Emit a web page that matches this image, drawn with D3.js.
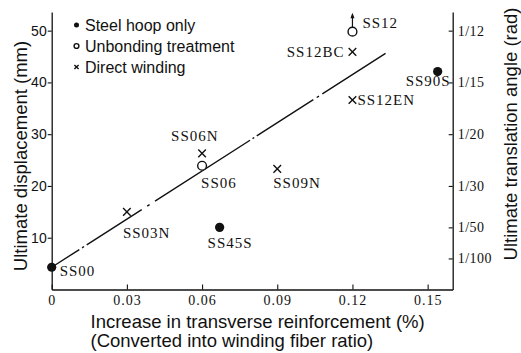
<!DOCTYPE html>
<html>
<head>
<meta charset="utf-8">
<script src="https://cdn.jsdelivr.net/npm/d3@7"></script>
<style>
  html, body { margin: 0; padding: 0; background: #fff; }
  svg { display: block; }
</style>
</head>
<body>
<svg id="chart" width="521" height="353"></svg>
<script>
// ---------------- data ----------------
const specimenNames = ["SS00", "SS03N", "SS06N", "SS06", "SS45S", "SS09N", "SS12BC", "SS12EN", "SS12", "SS90S"];
const specimenTypes = ["hoop", "winding", "winding", "unbonding", "hoop", "winding", "winding", "winding", "unbonding", "hoop"];
const fiberRatio    = [0, 0.03, 0.06, 0.06, 0.067, 0.09, 0.12, 0.12, 0.12, 0.154];
const ultimateDisp  = [4.3, 15.0, 26.3, 23.9, 12.0, 23.3, 45.9, 36.6, 49.8, 42.1];

const trendX = [0, 0.1332];
const trendY = [4.3, 45.6];

const xTicks = [0, 0.03, 0.06, 0.09, 0.12, 0.15];
const xTickLabels = ["0", "0.03", "0.06", "0.09", "0.12", "0.15"];
const yTicks = [10, 20, 30, 40, 50];
const angleTicks = [1/12, 1/15, 1/20, 1/30, 1/50, 1/100];
const angleTickLabels = ["1/12", "1/15", "1/20", "1/30", "1/50", "1/100"];
const specimenHeight = 600; // mm, displacement = angle * height

const legendTypes = ["hoop", "unbonding", "winding"];
const legendLabels = ["Steel hoop only", "Unbonding treatment", "Direct winding"];

// ---------------- layout / style ----------------
const svg = d3.select("#chart");
const x = d3.scaleLinear().domain([0, 0.16]).range([51.7, 452.7]);
const y = d3.scaleLinear().domain([0, 53.6]).range([289.5, 12]);
const yAngle = d3.scaleLinear().domain([0, 53.6 / specimenHeight]).range([289.5, 12]);

const labelPlace = {
  SS00:   {dx: 8,   dy: 4,   anchor: "start"},
  SS03N:  {dx: -4,  dy: 21,  anchor: "start"},
  SS06N:  {dx: -31, dy: -17, anchor: "start"},
  SS06:   {dx: -1,  dy: 17,  anchor: "start"},
  SS45S:  {dx: -12, dy: 16,  anchor: "start"},
  SS09N:  {dx: -4,  dy: 14,  anchor: "start"},
  SS12BC: {dx: -8,  dy: 0,   anchor: "end"},
  SS12EN: {dx: 5,   dy: 0,   anchor: "start"},
  SS12:   {dx: 10,  dy: -9,  anchor: "start"},
  SS90S:  {dx: 13,  dy: 9.5, anchor: "end"}
};

const ink = "#111";

function drawMarker(g, type, cx, cy, s) {
  if (type === "hoop") {
    g.append("circle").attr("cx", cx).attr("cy", cy).attr("r", 4.6 * s).attr("fill", ink);
  } else if (type === "unbonding") {
    g.append("circle").attr("cx", cx).attr("cy", cy).attr("r", 4.4 * s)
      .attr("fill", "#fff").attr("stroke", ink).attr("stroke-width", 1.4);
  } else {
    const h = 3.8 * s;
    g.append("path")
      .attr("d", `M${cx - h},${cy - h}L${cx + h},${cy + h}M${cx - h},${cy + h}L${cx + h},${cy - h}`)
      .attr("stroke", ink).attr("stroke-width", 1.4).attr("fill", "none");
  }
}

// ---------------- axes ----------------
const axisLeft = d3.axisLeft(y).tickValues(yTicks).tickSizeInner(4).tickSizeOuter(0).tickPadding(1)
  .tickFormat(d3.format("d"));
const gL = svg.append("g").attr("transform", `translate(${x(0)},0)`).call(axisLeft);
gL.selectAll("text").attr("font-family", "'Liberation Sans Narrow', 'Liberation Sans', sans-serif")
  .attr("font-size", 14).attr("fill", ink);

const axisBottom = d3.axisBottom(x).tickValues(xTicks).tickSizeInner(-5).tickSizeOuter(0).tickPadding(6)
  .tickFormat((d, i) => xTickLabels[i]);
const gB = svg.append("g").attr("transform", `translate(0,${y(0)})`).call(axisBottom);
gB.selectAll("text").attr("font-family", "'Liberation Serif', serif").attr("font-size", 14)
  .attr("letter-spacing", 1).attr("fill", ink);

const axisRight = d3.axisRight(yAngle).tickValues(angleTicks).tickSizeInner(-4).tickSizeOuter(0).tickPadding(5)
  .tickFormat((d, i) => angleTickLabels[i]);
const gR = svg.append("g").attr("transform", `translate(${x(0.16)},0)`).call(axisRight);
gR.selectAll("text").attr("font-family", "'Liberation Serif', serif").attr("font-size", 14)
  .attr("letter-spacing", 0.5).attr("fill", ink);

[gL, gB, gR].forEach(g => {
  g.selectAll("path.domain").attr("stroke", ink).attr("stroke-width", 1.3);
  g.selectAll(".tick line").attr("stroke", ink).attr("stroke-width", 1.1);
});

// ---------------- axis titles ----------------
svg.append("text")
  .attr("transform", "translate(20,156) rotate(-90)")
  .attr("text-anchor", "middle").attr("dominant-baseline", "central")
  .attr("font-family", "'Liberation Sans', Arial, sans-serif").attr("font-size", 18.5).attr("fill", ink)
  .text("Ultimate displacement (mm)");

svg.append("text")
  .attr("transform", "translate(510,134) rotate(-90)")
  .attr("text-anchor", "middle").attr("dominant-baseline", "central")
  .attr("font-family", "'Liberation Sans', Arial, sans-serif").attr("font-size", 18.5).attr("fill", ink)
  .text("Ultimate translation angle (rad)");

const xt = svg.append("text")
  .attr("font-family", "'Liberation Sans', Arial, sans-serif").attr("font-size", 18.5).attr("fill", ink);
xt.append("tspan").attr("x", 90.5).attr("y", 328).text("Increase in transverse reinforcement (%)");
xt.append("tspan").attr("x", 90.5).attr("y", 347).text("(Converted into winding fiber ratio)");

// ---------------- trend line ----------------
const trendData = trendX.map((d, i) => [d, trendY[i]]);
svg.append("path")
  .datum(trendData)
  .attr("d", d3.line().x(d => x(d[0])).y(d => y(d[1])))
  .attr("fill", "none").attr("stroke", ink).attr("stroke-width", 1.4)
  .attr("stroke-dasharray", "32.8,3.2,2.4,3.2,65.3,6.5,2.8,6.5,112.8,3,2,3,67.2,4,2.7,4,200");

// ---------------- points ----------------
const pts = svg.append("g");
specimenNames.forEach((name, i) => {
  const cx = x(fiberRatio[i]), cy = y(ultimateDisp[i]);
  drawMarker(pts, specimenTypes[i], cx, cy, 1);
  const p = labelPlace[name];
  pts.append("text")
    .attr("x", cx + p.dx).attr("y", cy + p.dy)
    .attr("text-anchor", p.anchor).attr("dominant-baseline", "central")
    .attr("font-family", "'Liberation Serif', serif").attr("font-size", 15)
    .attr("letter-spacing", 1).attr("fill", ink)
    .text(name);
  if (name === "SS12") {
    const top = cy - 4.4;
    pts.append("line").attr("x1", cx).attr("x2", cx).attr("y1", top).attr("y2", cy - 17)
      .attr("stroke", ink).attr("stroke-width", 1.2);
    pts.append("path").attr("d", `M${cx - 2},${cy - 13.5}L${cx},${cy - 19}L${cx + 2},${cy - 13.5}Z`)
      .attr("fill", ink);
  }
});

// ---------------- legend ----------------
const lg = svg.append("g");
legendTypes.forEach((t, i) => {
  const ly = 25 + i * 21;
  drawMarker(lg, t, 76.5, ly, 0.55);
  lg.append("text").attr("x", 85).attr("y", ly).attr("dominant-baseline", "central")
    .attr("font-family", "'Liberation Sans', Arial, sans-serif").attr("font-size", 16).attr("fill", ink)
    .text(legendLabels[i]);
});
</script>
</body>
</html>
